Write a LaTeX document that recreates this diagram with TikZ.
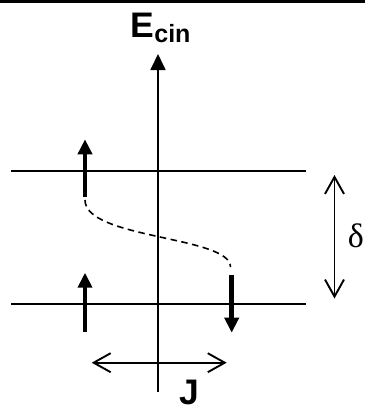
\documentclass[tikz,border=0pt]{standalone}
\usepackage{fontspec}
\setmainfont{Liberation Sans}
\newfontfamily\greekfont{Liberation Serif}
\usetikzlibrary{arrows.meta}
\tikzset{
  thinline/.style={line width=1.8bp},
  spinarrow/.style={line width=4.7bp, -{Triangle[length=15bp,width=14bp]}},
  axisarrow/.style={line width=1.8bp, -{Triangle[length=16bp,width=15bp]}},
  dimarrow/.style={line width=1.9bp, {Straight Barb[length=17bp,width=19bp]}-{Straight Barb[length=17bp,width=19bp]}},
  bigbold/.style={inner sep=0pt, text depth=0pt, font=\fontsize{35.5bp}{36bp}\selectfont\bfseries},
}
\begin{document}
\begin{tikzpicture}[x=1bp,y=-1bp]
\useasboundingbox (0,0) rectangle (365,412);
% top border
\coordinate (bl) at (0,1.5);
\coordinate (br) at (365,1.5);
\draw[line width=2.2bp] (bl) -- (br);
% axis
\coordinate (axb) at (158,392);
\coordinate (axt) at (158,54);
\draw[axisarrow] (axb) -- (axt);
\node[bigbold, anchor=base west] (ecin) at (130.5,37.7) {E\raisebox{-5bp}{\fontsize{25bp}{25bp}\selectfont cin}};
% levels
\coordinate (u1) at (11,171);
\coordinate (u2) at (306,171);
\coordinate (l1) at (11,304);
\coordinate (l2) at (306,304);
\draw[thinline] (u1) -- (u2);
\draw[thinline] (l1) -- (l2);
% spins
\coordinate (s1a) at (85,197);
\coordinate (s1b) at (85,139.3);
\coordinate (s2a) at (85,332);
\coordinate (s2b) at (85,272.7);
\coordinate (s3a) at (231.7,275);
\coordinate (s3b) at (231.7,332.7);
\draw[spinarrow] (s1a) -- (s1b);
\draw[spinarrow] (s2a) -- (s2b);
\draw[spinarrow] (s3a) -- (s3b);
% dashed transition
\coordinate (d1) at (85,200);
\coordinate (d2) at (230.5,267);
\draw[line width=1.6bp, dash pattern=on 6.5bp off 4.5bp] (d1) .. controls (85,239) and (230.5,236) .. (d2);
% delta
\coordinate (dt) at (334.5,175);
\coordinate (db) at (334.5,298.5);
\draw[dimarrow] (dt) -- (db);
\node[inner sep=0pt, font=\greekfont\fontsize{34bp}{34bp}\selectfont] (delta) at (356,236) {δ};
% J
\coordinate (jl) at (91.7,362.7);
\coordinate (jr) at (226.7,362.7);
\draw[dimarrow] (jl) -- (jr);
\node[bigbold, anchor=base west] (J) at (179,404) {J};
\end{tikzpicture}
\end{document}
